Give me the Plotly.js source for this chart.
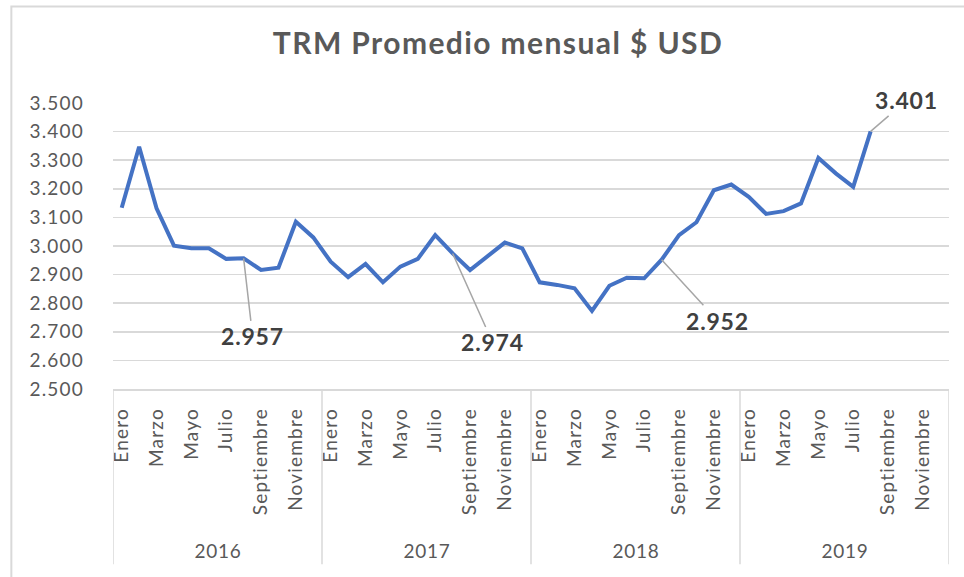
<!DOCTYPE html>
<html>
<head>
<meta charset="utf-8">
<script src="https://cdn.plot.ly/plotly-3.0.1.min.js"></script>
<style>
html,body{margin:0;padding:0;background:#fff;}
#chart{width:964px;height:577px;}
#chart .xtick text, #chart .ytick text{letter-spacing:1.2px;}
#chart .gtitle{letter-spacing:1.4px;}
#chart .annotation-text{letter-spacing:0.8px;}
</style>
</head>
<body>
<div id="chart"></div>
<script>
// ---- Data ----
const months = ["Enero","Febrero","Marzo","Abril","Mayo","Junio","Julio","Agosto","Septiembre","Octubre","Noviembre","Diciembre"];
const years = ["2016","2017","2018","2019"];
const trm2016 = [3134, 3347, 3132, 3001, 2992, 2992, 2955, 2957, 2916, 2924, 3085, 3030];
const trm2017 = [2945, 2891, 2937, 2873, 2928, 2955, 3038, 2974, 2916, 2963, 3012, 2992];
const trm2018 = [2873, 2864, 2852, 2773, 2861, 2889, 2887, 2952, 3038, 3083, 3195, 3215];
const trm2019 = [3172, 3112, 3122, 3149, 3308, 3254, 3207, 3401];
const labelledMonth = "Agosto";   // data labels shown on each August
const tickMonths = ["Enero","Marzo","Mayo","Julio","Septiembre","Noviembre"];

// ---- Build series ----
const series = [trm2016, trm2017, trm2018, trm2019];
const xs = [], ys = [];
series.forEach((arr, yi) => arr.forEach((v, mi) => { xs.push(yi * 12 + mi); ys.push(v); }));

const tickvals = [], ticktext = [];
years.forEach((y, yi) => months.forEach((m, mi) => {
  if (tickMonths.includes(m)) { tickvals.push(yi * 12 + mi); ticktext.push(m); }
}));

function fmt(v) { return String(v).replace(/\B(?=(\d{3})+(?!\d))/g, "."); }

const FONT = "Lato, 'Open Sans', sans-serif";
const GRID = "#D9D9D9";

// Data label offsets (styling)
const labelOffsets = [[9, 78], [40, 89], [56, 61], [36, -31]];
const annotations = [];
const li = months.indexOf(labelledMonth);
series.forEach((arr, yi) => {
  if (arr.length > li) {
    const off = labelOffsets[yi];
    annotations.push({
      x: yi * 12 + li, y: arr[li], xref: "x", yref: "y",
      text: "<b>" + fmt(arr[li]) + "</b>",
      showarrow: true, arrowhead: 0, arrowwidth: 1.5, arrowcolor: "#A6A6A6",
      ax: off[0], ay: off[1], standoff: 0, startstandoff: 0,
      font: {family: FONT, size: 23, color: "#404040"}
    });
  }
});
// Year group labels
years.forEach((y, yi) => {
  annotations.push({
    x: yi * 12 + 5.5, y: -0.564, xref: "x", yref: "paper",
    text: y, showarrow: false, yanchor: "middle", xanchor: "center",
    font: {family: FONT, size: 19, color: "#595959"}
  });
});

// Year separator lines + outer chart border
const shapes = [];
for (let k = 0; k <= years.length; k++) {
  shapes.push({type: "line", xref: "x", yref: "paper", x0: k * 12 - 0.5, x1: k * 12 - 0.5,
    y0: 0, y1: -0.613, line: {color: GRID, width: 1.5}});
}
shapes.push({type: "rect", xref: "paper", yref: "paper", x0: -0.1216, x1: 1.2, y0: -1, y1: 1.3374,
  line: {color: GRID, width: 2}});

const trace = {
  x: xs, y: ys, type: "scatter", mode: "lines",
  line: {color: "#4472C4", width: 4},
  hoverinfo: "skip"
};

const layout = {
  width: 964, height: 577,
  margin: {l: 112.7, r: 15, t: 102.7, b: 187.7},
  paper_bgcolor: "#fff", plot_bgcolor: "#fff",
  showlegend: false,
  title: {
    text: "<b>TRM Promedio mensual $ USD</b>",
    xref: "container", yref: "container", x: 0.5166, y: 0.924,
    xanchor: "center", yanchor: "middle",
    font: {family: FONT, size: 30, color: "#595959"}
  },
  separators: ",.",
  xaxis: {
    type: "linear", range: [-0.5, 47.5],
    tickmode: "array", tickvals: tickvals, ticktext: ticktext,
    tickangle: -90, ticks: "", ticklabelstandoff: 10,
    showgrid: false, zeroline: false,
    showline: true, linecolor: GRID, linewidth: 1.5,
    tickfont: {family: FONT, size: 19, color: "#595959"},
    fixedrange: true
  },
  yaxis: {
    range: [2500, 3500], dtick: 100, tick0: 2500,
    tickformat: ",.0f",
    showgrid: true, gridcolor: GRID, gridwidth: 1.5,
    zeroline: false, showline: false, ticks: "", ticklabelstandoff: 28,
    tickfont: {family: FONT, size: 19, color: "#595959"},
    fixedrange: true
  },
  annotations: annotations,
  shapes: shapes
};

Plotly.newPlot("chart", [trace], layout, {displayModeBar: false, staticPlot: true});
</script>
</body>
</html>
